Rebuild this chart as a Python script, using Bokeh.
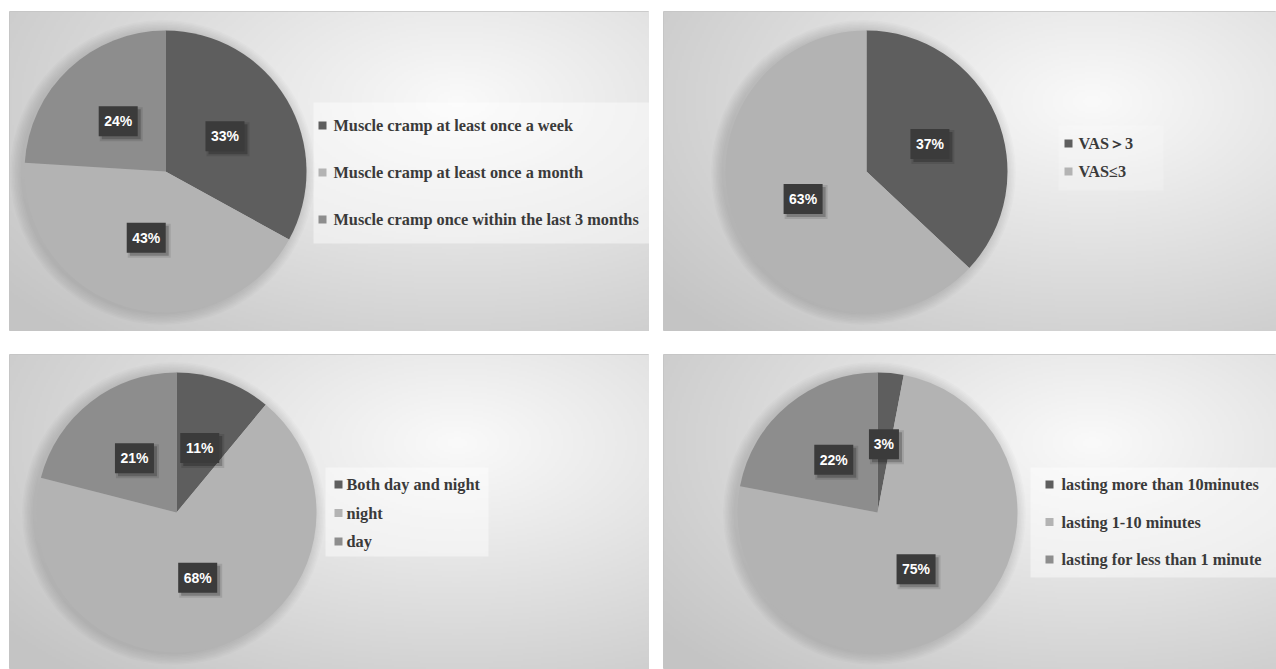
import numpy as np
from bokeh.plotting import figure
from bokeh.layouts import row, column
from bokeh.models import Range1d, ColumnDataSource
from bokeh.core.properties import value
from bokeh.embed import file_html
from bokeh.resources import INLINE

# ---------------- data ----------------
p1_categories = ["Muscle cramp at least once a week",
                 "Muscle cramp at least once a month",
                 "Muscle cramp once within the last 3 months"]
p1_values = [33, 43, 24]

p2_categories = ["VAS\uff1e3", "VAS\u22643"]
p2_values = [37, 63]

p3_categories = ["Both day and night", "night", "day"]
p3_values = [11, 68, 21]

p4_categories = ["lasting more than 10minutes",
                 "lasting 1-10 minutes",
                 "lasting for  less than 1 minute"]
p4_values = [3, 75, 22]

slice_colors = ["#5e5e5e", "#b3b3b3", "#8d8d8d"]

# ---------------- layout / style ----------------
TOP_H, BOT_H = 320, 315
LEFT_W, RIGHT_W = 640, 613

cfgs = [
    dict(w=LEFT_W, h=TOP_H, bl=9, bt=11, cx=156, cy=160, R=141,
         mx=313, tx=324, ly0=206, lstep=47, box=(304, 640, 88, 229), ba=0.45),
    dict(w=RIGHT_W, h=TOP_H, bl=0, bt=11, cx=203, cy=160, R=141,
         mx=405, tx=415, ly0=188, lstep=28, box=(395, 500, 141, 206), ba=0.2),
    dict(w=LEFT_W, h=BOT_H, bl=9, bt=0, cx=167, cy=157, R=140,
         mx=329, tx=337, ly0=185, lstep=28.5, box=(316, 479, 113, 202), ba=0.45),
    dict(w=RIGHT_W, h=BOT_H, bl=0, bt=0, cx=214, cy=157, R=140,
         mx=386, tx=398, ly0=185, lstep=37.5, box=(367, 613, 92, 202), ba=0.45),
]


def background(w, h):
    nx, ny = w // 2, h // 2
    xs = np.linspace(0, 1, nx)
    ys = np.linspace(0, 1, ny)
    X, Y = np.meshgrid(xs, ys)
    d = np.sqrt(((X - 0.70) * 1.0) ** 2 + ((Y - 0.72) * 0.9) ** 2)
    g = np.clip(250 - 60 * d, 196, 250).astype(np.uint32)
    img = (255 << 24) | (g << 16) | (g << 8) | g
    return img.astype(np.uint32)


def make_panel(cats, vals, c):
    p = figure(width=c["w"] + c["bl"], height=c["h"] + c["bt"],
               x_range=Range1d(0, c["w"]), y_range=Range1d(0, c["h"]),
               x_axis_type=None, y_axis_type=None,
               toolbar_location=None, output_backend="svg",
               min_border=0, min_border_left=c["bl"], min_border_top=c["bt"],
               outline_line_color="#c4c4c4", border_fill_color="white")
    p.grid.visible = False

    p.image_rgba(image=[background(c["w"], c["h"])], x=0, y=0,
                 dw=c["w"], dh=c["h"])

    # legend background box
    l, r, b, t = c["box"]
    p.quad(left=l, right=r, bottom=b, top=t, fill_color="white",
           fill_alpha=c["ba"], line_color=None)

    # soft shadow around pie
    for i in range(8):
        p.circle(x=c["cx"] - 3, y=c["cy"] - 1, radius=c["R"] + 1 + i * 1.5,
                 fill_color="black", fill_alpha=0.015, line_color=None)

    v = np.array(vals, dtype=float)
    frac = v / v.sum()
    cum = np.cumsum(frac)
    start = np.pi / 2 - 2 * np.pi * (cum - frac)
    end = np.pi / 2 - 2 * np.pi * cum
    mid = np.pi / 2 - 2 * np.pi * (cum - frac / 2)
    n = len(vals)
    cols = slice_colors[:n]
    src = ColumnDataSource(dict(start=start, end=end, color=cols))
    p.wedge(x=c["cx"], y=c["cy"], radius=c["R"], start_angle="start",
            end_angle="end", direction="clock", fill_color="color",
            line_color=None, source=src)

    # data labels
    rr = 0.49 * c["R"]
    lx = c["cx"] + rr * np.cos(mid)
    ly = c["cy"] + rr * np.sin(mid)
    labels = [f"{x}%" for x in vals]
    bw = [12 + 9 * len(s) for s in labels]
    lsrc = ColumnDataSource(dict(x=lx, y=ly, sx=lx + 3, sy=ly - 3,
                                 w=bw, w2=[x + 4 for x in bw], t=labels))
    p.rect(x="sx", y="sy", width="w2", height=34, fill_color="black",
           fill_alpha=0.10, line_color=None, source=lsrc)
    p.rect(x="sx", y="sy", width="w", height=30, fill_color="black",
           fill_alpha=0.22, line_color=None, source=lsrc)
    p.rect(x="x", y="y", width="w", height=30, fill_color="#3b3b3b",
           line_color=None, source=lsrc)
    p.text(x="x", y="y", text="t", text_align="center",
           text_baseline="middle", text_color="white",
           text_font=value("Liberation Sans"), text_font_style="bold",
           text_font_size="14px", source=lsrc)

    # legend
    ys = [c["ly0"] - i * c["lstep"] for i in range(n)]
    gsrc = ColumnDataSource(dict(mx=[c["mx"]] * n, tx=[c["tx"]] * n,
                                 y=ys, t=cats, color=cols))
    p.scatter(x="mx", y="y", marker="square", size=8, fill_color="color",
              line_color=None, source=gsrc)
    p.text(x="tx", y="y", text="t", text_align="left",
           text_baseline="middle", text_color="#3a3a3a",
           text_font=value("Liberation Serif"), text_font_style="bold",
           text_font_size="16.3px", source=gsrc)
    return p


p1 = make_panel(p1_categories, p1_values, cfgs[0])
p2 = make_panel(p2_categories, p2_values, cfgs[1])
p3 = make_panel(p3_categories, p3_values, cfgs[2])
p4 = make_panel(p4_categories, p4_values, cfgs[3])

layout = column(row(p1, p2, spacing=14), row(p3, p4, spacing=14), spacing=23)

open("out.html", "w").write(file_html(layout, INLINE))
